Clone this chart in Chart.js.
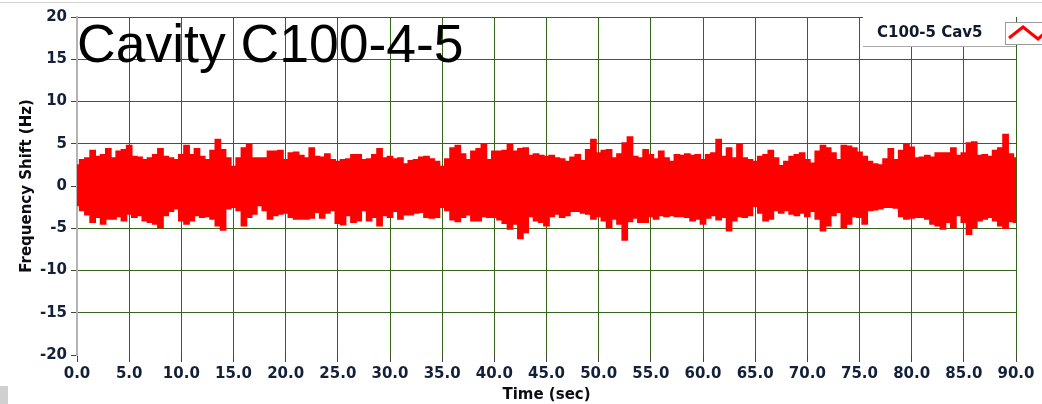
<!DOCTYPE html>
<html>
<head>
<meta charset="utf-8">
<script src="https://cdn.jsdelivr.net/npm/chart.js@4.4.1/dist/chart.umd.min.js"></script>
<style>
  body { margin: 0; background: #fff; }
  #wrap { position: relative; width: 1042px; height: 404px; overflow: hidden; }
  #topline { position: absolute; left: 0; top: 2px; width: 1042px; height: 1px; background: #d4d4d4; }
  #title { position: absolute; left: 77px; top: 17px; font: 53.5px/53.5px "Liberation Sans", Arial, sans-serif; color: #000; white-space: nowrap; }
  #legend { position: absolute; left: 863px; top: 17px; width: 153px; height: 29px; background: #fff; border-bottom: 1px solid #a8a8a8; }
  #legend span { position: absolute; left: 14px; top: 6px; font: bold 15px "DejaVu Sans", sans-serif; color: #101a2e; white-space: nowrap; }
  #icon { position: absolute; left: 1005px; top: 22px; width: 40px; height: 21px; border: 1px solid #9a9a9a; background: #fff; }
  #corner { position: absolute; left: 0; top: 386px; width: 8px; height: 18px; background: #d0d0d0; }
</style>
</head>
<body>
<div id="wrap">
  <canvas id="chart" width="1042" height="404"></canvas>
  <div id="topline"></div>
  <div id="title">Cavity C100-4-5</div>
  <div id="legend"><span>C100-5 Cav5</span></div>
  <div id="icon"><svg width="40" height="21"><polyline points="3,15 17,4 32,16 40,9" fill="none" stroke="#ff0000" stroke-width="3"/></svg></div>
  <div id="corner"></div>
</div>
<script>
// envelope of the signal, read every 0.5 s from 0 to 90 s
const sampleStep = 0.5;

const upper = [
  2.5, 3.1, 3.3, 4.2, 3.5, 3.7, 4.4, 3.3, 4.1, 4.3, 4.8, 3.5, 3.4, 3.1, 3.3, 3.7, 4.4, 3.5, 3.3, 3.1, 3.7, 4.8, 3.7, 4.4, 3.5, 3.1, 4.2, 5.5, 4.3, 3.3,
  2.3, 3.3, 4.5, 4.9, 3.3, 3.3, 3.3, 4.1, 4.1, 4.2, 3.1, 3.9, 4.0, 3.6, 3.3, 4.5, 3.5, 3.4, 3.8, 3.1, 2.9, 3.1, 3.2, 3.7, 3.7, 3.1, 3.2, 3.7, 4.4, 3.3,
  3.5, 3.2, 3.3, 2.6, 3.0, 3.1, 3.4, 3.5, 3.2, 2.9, 2.3, 3.2, 4.5, 4.8, 3.8, 3.1, 4.1, 4.4, 4.9, 3.1, 4.1, 4.1, 4.2, 5.0, 4.1, 4.4, 4.5, 3.6, 3.8, 3.6, 3.5,
  3.6, 3.3, 3.2, 2.9, 3.4, 3.7, 3.0, 4.3, 5.5, 3.9, 4.2, 4.3, 3.3, 3.8, 5.1, 5.8, 3.5, 3.3, 4.3, 3.7, 3.2, 4.1, 3.3, 2.9, 3.7, 3.6, 3.8, 3.6, 3.7, 3.1,
  3.7, 3.9, 5.5, 3.5, 4.5, 3.3, 4.9, 3.3, 3.1, 2.9, 3.5, 3.7, 4.2, 3.3, 2.4, 2.9, 3.5, 3.7, 3.9, 3.1, 2.7, 4.1, 4.8, 4.5, 3.9, 3.1, 4.8, 4.7, 4.5, 4.0, 3.5,
  2.9, 2.6, 2.5, 3.2, 4.4, 3.1, 4.2, 5.0, 4.6, 3.3, 3.4, 3.6, 3.4, 3.9, 3.9, 3.9, 4.5, 3.6, 3.9, 5.1, 5.2, 3.6, 3.7, 3.5, 4.2, 4.5, 6.1, 3.8, 3.3
];

const lower = [
  -2.3, -2.9, -3.4, -4.3, -3.7, -4.5, -3.9, -3.9, -3.6, -4.1, -3.3, -3.7, -3.5, -4.1, -4.3, -4.5, -4.9, -3.5, -3.0, -2.7, -4.1, -4.5, -4.1, -3.5, -3.7, -3.6, -3.9, -4.7, -5.2, -2.7,
  -2.5, -2.9, -4.7, -3.7, -3.3, -2.3, -2.9, -3.9, -3.5, -3.3, -3.2, -3.7, -3.9, -3.9, -3.9, -3.8, -3.1, -3.8, -3.2, -2.9, -4.4, -4.6, -3.5, -4.3, -4.1, -2.9, -4.1, -3.7, -4.7, -3.5,
  -3.7, -3.0, -3.9, -3.4, -3.4, -3.2, -3.1, -3.7, -3.8, -3.7, -2.5, -2.9, -4.0, -4.2, -3.7, -3.4, -4.1, -4.1, -3.6, -3.7, -3.7, -4.0, -4.4, -5.1, -4.5, -6.2, -5.5, -3.6, -4.1, -4.3, -4.7,
  -3.6, -3.3, -3.7, -3.5, -3.0, -3.0, -3.2, -3.3, -3.9, -3.6, -4.1, -4.9, -3.9, -4.5, -6.4, -4.2, -3.8, -4.3, -4.3, -3.6, -3.9, -3.5, -3.6, -3.5, -3.6, -3.6, -3.7, -4.1, -3.9, -4.5,
  -3.8, -3.5, -4.0, -3.7, -5.3, -4.1, -3.6, -3.7, -3.5, -2.4, -3.2, -4.1, -3.9, -2.9, -3.2, -2.9, -3.3, -3.5, -3.2, -3.6, -3.0, -3.9, -5.3, -4.7, -3.5, -3.1, -4.9, -4.5, -3.6, -3.7, -4.5,
  -2.9, -2.8, -2.7, -2.5, -2.5, -2.6, -3.6, -3.9, -3.8, -3.7, -3.7, -3.9, -4.5, -4.7, -5.1, -4.3, -4.9, -3.5, -4.3, -5.7, -4.9, -4.1, -3.9, -3.7, -4.1, -4.7, -5.0, -4.2, -4.3
];

const xTicks = { min: 0, max: 90, step: 5 };
const yTicks = { min: -20, max: 20, step: 5 };

const gridGreen = '#36641a';
const labelColor = '#14203a';
const boldFont = { family: 'DejaVu Sans', weight: 'bold', size: 15 };

const times = upper.map((v, i) => i * sampleStep);

const ctx = document.getElementById('chart');
new Chart(ctx, {
  type: 'line',
  data: {
    datasets: [
      {
        label: 'C100-5 Cav5',
        data: upper.map((v, i) => ({ x: times[i], y: v })),
        borderColor: '#ff0000',
        backgroundColor: '#ff0000',
        borderWidth: 1.5,
        pointRadius: 0,
        stepped: 'middle',
        fill: '+1'
      },
      {
        label: 'lower',
        data: lower.map((v, i) => ({ x: times[i], y: v })),
        borderColor: '#ff0000',
        borderWidth: 1.5,
        pointRadius: 0,
        stepped: 'middle',
        fill: false
      }
    ]
  },
  options: {
    responsive: false,
    animation: false,
    layout: { padding: { top: 17, right: 26, left: 0, bottom: 0 } },
    plugins: { legend: { display: false }, tooltip: { enabled: false } },
    scales: {
      x: {
        type: 'linear',
        min: xTicks.min,
        max: xTicks.max,
        afterFit(s) { s.height = 49; },
        ticks: {
          stepSize: xTicks.step,
          autoSkip: false,
          maxRotation: 0,
          padding: 3,
          color: labelColor,
          font: boldFont,
          callback: v => v.toFixed(1)
        },
        grid: { color: gridGreen, tickColor: '#444', tickLength: 7 },
        border: { display: false },
        title: { display: true, text: 'Time (sec)', color: '#0c0c14', font: boldFont, padding: 0 }
      },
      y: {
        min: yTicks.min,
        max: yTicks.max,
        afterFit(s) { s.width = 77; },
        ticks: { stepSize: yTicks.step, padding: 4, color: labelColor, font: boldFont },
        grid: {
          color: c => (c.tick && c.tick.value === yTicks.min) ? 'rgba(0,0,0,0)' : gridGreen,
          tickColor: '#444',
          tickLength: 6
        },
        border: { color: '#b4b4b4', width: 2 },
        title: { display: true, text: 'Frequency Shift (Hz)', color: '#0c0c14', font: boldFont, padding: { top: 18, bottom: 0 } }
      }
    }
  }
});
</script>
</body>
</html>
